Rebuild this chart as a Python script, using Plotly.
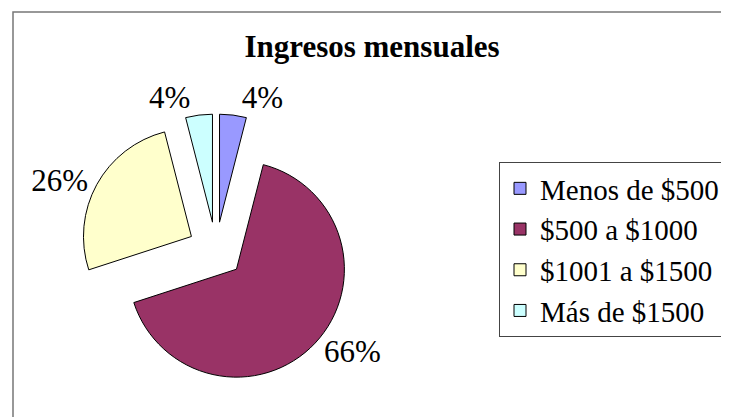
import plotly.graph_objects as go

# Monthly income distribution (percent of respondents)
categories = ['Menos de $500', '$500 a $1000', '$1001 a $1500', 'Más de $1500']
shares = [4, 66, 26, 4]
colors = ['#9999FF', '#993366', '#FFFFCC', '#CCFFFF']

# page body adds an 8px margin, so the figure is drawn 8px smaller
W, H = 721, 409


def fx(px):
    # reference pixel x -> paper fraction
    return (px - 8) / W


def fy(py):
    # reference pixel y -> paper fraction (from bottom)
    return 1 - (py - 8) / H


fig = go.Figure(go.Pie(
    labels=categories,
    values=shares,
    sort=False,
    direction='clockwise',
    rotation=0,
    pull=0.26,
    marker=dict(colors=colors, line=dict(color='black', width=1)),
    textinfo='percent',
    texttemplate='%{percent:.0%}',
    textposition='outside',
    outsidetextfont=dict(family='Liberation Serif', size=31, color='black'),
    domain=dict(x=[fx(80), fx(352)], y=[fy(386), fy(114)]),
    hovertemplate='%{label}: %{value}%<extra></extra>'
))

# outer chart frame like the Excel chart area
fig.add_shape(type='rect', xref='paper', yref='paper',
              x0=fx(13), x1=1.05, y0=-0.05, y1=fy(12),
              line=dict(color='#777777', width=1.5))

fig.update_layout(
    width=W,
    height=H,
    margin=dict(l=0, r=0, t=0, b=0, autoexpand=False),
    paper_bgcolor='white',
    plot_bgcolor='white',
    font=dict(family='Liberation Serif', color='black'),
    title=dict(text='<b>Ingresos mensuales</b>', x=fx(372), y=fy(46),
               xanchor='center', yanchor='middle',
               font=dict(family='Liberation Serif', size=31, color='black')),
    legend=dict(x=fx(725), y=fy(162), xanchor='right', yanchor='top',
                bgcolor='white', bordercolor='#444444', borderwidth=1,
                font=dict(family='Liberation Serif', size=29, color='black')),
)

fig.write_html('out.html')
